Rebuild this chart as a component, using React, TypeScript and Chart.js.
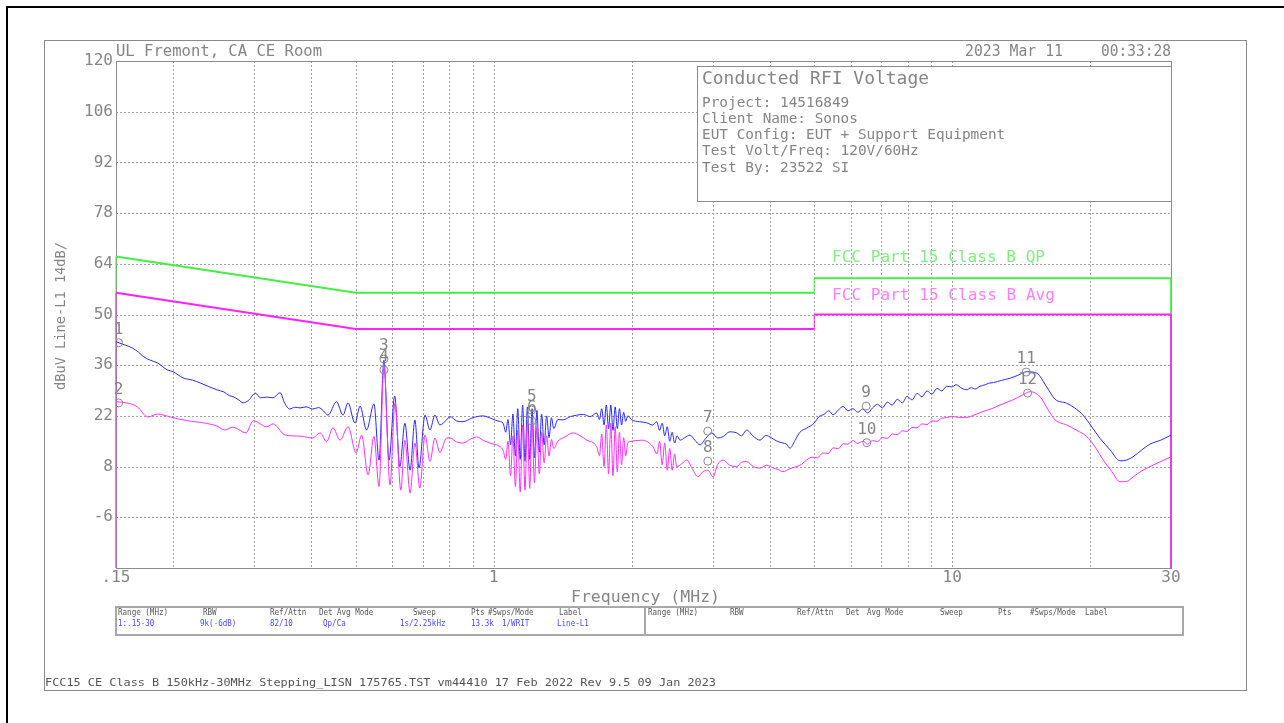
import React, { useEffect, useRef } from "react";
import { Chart, registerables } from "chart.js";

Chart.register(...registerables);

// ---------- DATA ----------
// Peak trace (blue), frequency in MHz / level in dBuV
const peakFreq = [
  0.150, 0.155, 0.160, 0.163, 0.168, 0.172, 0.178, 0.185, 0.194, 0.200,
  0.205, 0.210, 0.220, 0.229, 0.240, 0.249, 0.258, 0.265, 0.270, 0.278,
  0.284, 0.292, 0.302, 0.310, 0.320, 0.330, 0.342, 0.350, 0.359, 0.368,
  0.378, 0.390, 0.403, 0.415, 0.425, 0.435, 0.454, 0.469, 0.481, 0.498,
  0.511, 0.528, 0.548, 0.562, 0.576, 0.591, 0.608, 0.624, 0.640, 0.657,
  0.673, 0.687, 0.708, 0.726, 0.744, 0.763, 0.789, 0.803, 0.830, 0.857,
  0.900, 0.947, 0.996, 1.020, 1.048, 1.062, 1.074, 1.088, 1.101, 1.115,
  1.128, 1.142, 1.156, 1.170, 1.184, 1.198, 1.212, 1.227, 1.242, 1.257,
  1.272, 1.288, 1.304, 1.320, 1.336, 1.352, 1.380, 1.416, 1.470, 1.517,
  1.570, 1.622, 1.677, 1.700, 1.720, 1.740, 1.760, 1.780, 1.800, 1.820,
  1.840, 1.860, 1.880, 1.900, 1.920, 1.940, 1.960, 2.000, 2.080, 2.155,
  2.220, 2.267, 2.300, 2.330, 2.360, 2.390, 2.420, 2.450, 2.480, 2.510,
  2.549, 2.610, 2.679, 2.750, 2.817, 2.900, 2.990, 3.080, 3.164, 3.270,
  3.389, 3.470, 3.563, 3.680, 3.808, 3.920, 4.038, 4.150, 4.274, 4.350,
  4.426, 4.540, 4.654, 4.810, 5.000, 5.120, 5.250, 5.380, 5.500, 5.640,
  5.780, 5.920, 6.070, 6.220, 6.380, 6.540, 6.700, 6.870, 7.040, 7.220,
  7.400, 7.590, 7.780, 7.970, 8.170, 8.380, 8.590, 8.810, 9.030, 9.260,
  9.490, 9.730, 9.970, 10.20, 10.50, 10.75, 11.00, 11.20, 11.50, 11.80,
  12.00, 12.30, 12.80, 13.37, 13.90, 14.53, 15.28, 16.07, 16.76, 17.76,
  18.50, 19.29, 20.10, 21.00, 22.10, 23.22, 24.00, 24.79, 25.90, 26.99,
  28.50, 30.0,
];
const peakDb = [
  42.5, 41.8, 41.2, 40.7, 39.6, 38.4, 37.4, 36.6, 34.7, 34.2,
  33.3, 32.5, 31.9, 31.1, 30.0, 29.2, 28.6, 27.6, 27.3, 26.4,
  25.6, 26.3, 28.3, 27.0, 27.2, 27.0, 28.4, 25.5, 23.9, 24.4,
  24.2, 24.5, 23.9, 24.3, 23.4, 22.2, 25.9, 22.2, 25.6, 20.0,
  24.7, 18.1, 25.3, 9.8, 37.4, 9.8, 27.5, 8.0, 20.0, 7.0,
  20.9, 7.6, 22.2, 18.1, 22.2, 19.5, 20.9, 21.8, 20.6, 20.4,
  21.5, 22.0, 21.1, 20.6, 20.0, 17.5, 21.0, 14.0, 22.5, 11.0,
  24.0, 10.0, 25.0, 9.5, 24.5, 10.0, 24.0, 10.5, 23.5, 12.0,
  22.5, 14.0, 22.0, 16.0, 21.5, 18.5, 21.0, 20.9, 21.8, 22.2,
  22.4, 21.8, 22.8, 21.0, 24.0, 19.5, 25.0, 18.5, 25.0, 18.0,
  24.5, 18.5, 24.0, 19.5, 23.0, 20.5, 22.0, 20.9, 20.4, 20.1,
  19.5, 20.4, 18.0, 20.0, 16.5, 19.0, 15.0, 17.5, 14.5, 16.5,
  15.3, 16.0, 16.7, 15.2, 14.0, 15.8, 17.3, 15.9, 16.3, 17.6,
  17.3, 16.5, 18.1, 16.4, 15.3, 16.6, 15.9, 15.0, 14.5, 14.2,
  13.1, 15.2, 17.5, 18.6, 20.0, 21.8, 22.4, 23.4, 22.3, 23.6,
  24.6, 23.4, 24.0, 23.0, 23.9, 22.8, 24.2, 25.2, 24.2, 25.8,
  25.0, 26.6, 25.6, 27.4, 26.4, 28.2, 27.3, 28.9, 28.0, 29.6,
  28.9, 30.2, 30.0, 30.6, 29.6, 29.2, 29.8, 29.4, 30.2, 30.6,
  31.0, 31.2, 31.8, 32.4, 33.2, 34.2, 33.8, 30.0, 26.6, 25.5,
  24.2, 22.2, 19.2, 15.8, 12.6, 9.6, 9.8, 10.7, 12.6, 14.2,
  15.3, 16.7,
];

// Average trace (magenta)
const avgFreq = [
  0.150, 0.158, 0.167, 0.176, 0.185, 0.197, 0.214, 0.232, 0.249, 0.259,
  0.270, 0.288, 0.299, 0.320, 0.330, 0.351, 0.378, 0.403, 0.418, 0.432,
  0.446, 0.462, 0.481, 0.501, 0.515, 0.532, 0.548, 0.562, 0.576, 0.594,
  0.609, 0.627, 0.640, 0.657, 0.673, 0.690, 0.708, 0.726, 0.744, 0.763,
  0.789, 0.803, 0.830, 0.857, 0.890, 0.918, 0.950, 0.981, 1.032, 1.048,
  1.062, 1.074, 1.088, 1.101, 1.115, 1.128, 1.142, 1.156, 1.170, 1.184,
  1.198, 1.212, 1.227, 1.242, 1.257, 1.272, 1.288, 1.304, 1.320, 1.336,
  1.352, 1.380, 1.430, 1.489, 1.540, 1.595, 1.677, 1.700, 1.720, 1.740,
  1.760, 1.780, 1.800, 1.820, 1.840, 1.860, 1.880, 1.900, 1.920, 1.940,
  1.960, 1.982, 2.103, 2.225, 2.270, 2.300, 2.330, 2.360, 2.390, 2.420,
  2.450, 2.480, 2.507, 2.570, 2.636, 2.710, 2.789, 2.860, 2.932, 3.007,
  3.080, 3.164, 3.270, 3.389, 3.470, 3.563, 3.680, 3.808, 3.940, 4.066,
  4.170, 4.274, 4.420, 4.578, 4.690, 4.810, 4.950, 5.080, 5.220, 5.360,
  5.500, 5.640, 5.780, 5.920, 6.070, 6.220, 6.380, 6.540, 6.700, 6.870,
  7.040, 7.220, 7.400, 7.590, 7.780, 7.970, 8.170, 8.380, 8.590, 8.810,
  9.030, 9.260, 9.490, 9.730, 9.970, 10.30, 10.75, 11.20, 11.67, 12.20,
  12.71, 13.25, 13.82, 14.30, 14.78, 15.54, 16.10, 16.76, 17.76, 18.70,
  19.65, 20.50, 21.35, 22.30, 23.22, 24.00, 24.83, 25.90, 26.99, 28.50,
  30.0,
];
const avgDb = [
  25.9, 25.6, 24.5, 21.7, 22.5, 21.7, 20.7, 20.1, 19.2, 18.1,
  18.9, 17.3, 20.7, 19.0, 19.8, 16.7, 16.4, 15.9, 17.3, 14.9,
  18.7, 15.3, 19.0, 11.8, 16.7, 5.7, 16.3, 2.5, 35.5, 2.9,
  25.6, 1.5, 15.3, 0.7, 14.5, 2.1, 16.7, 9.4, 15.9, 11.9,
  15.9, 15.9, 14.8, 14.5, 15.6, 16.2, 15.2, 14.5, 13.5, 12.5,
  10.0, 15.0, 5.5, 16.5, 2.5, 18.0, 1.0, 19.5, 1.5, 20.5,
  2.0, 20.0, 3.5, 19.0, 6.0, 17.5, 9.0, 16.5, 11.0, 15.5,
  13.0, 15.0, 16.2, 17.3, 16.6, 15.3, 13.5, 11.0, 17.0, 8.0,
  19.5, 6.0, 20.0, 5.5, 19.0, 6.5, 17.5, 8.5, 16.0, 11.0,
  14.5, 14.9, 15.3, 13.5, 11.5, 15.0, 8.5, 14.5, 7.0, 13.0,
  7.0, 11.5, 8.0, 8.8, 9.8, 7.4, 5.2, 6.6, 7.0, 5.2,
  8.6, 9.8, 8.4, 8.0, 9.2, 9.4, 8.0, 7.6, 8.4, 7.6,
  7.2, 6.6, 7.4, 8.0, 8.6, 9.8, 10.6, 10.4, 11.8, 11.6,
  13.2, 12.9, 14.3, 14.2, 15.2, 14.4, 15.0, 14.2, 15.2, 14.9,
  16.0, 15.8, 17.0, 16.8, 17.9, 17.7, 18.8, 18.7, 19.8, 19.6,
  20.6, 20.5, 21.4, 21.5, 21.9, 21.6, 21.6, 22.3, 23.2, 24.0,
  25.0, 25.9, 26.9, 27.9, 28.7, 27.3, 24.2, 20.9, 19.5, 18.0,
  16.3, 13.4, 9.8, 6.6, 3.8, 3.9, 5.2, 6.8, 8.0, 9.4,
  10.7,
];

// Limit lines
const qpLimitFreq = [0.15, 0.15, 0.5, 5, 5, 30, 30];
const qpLimitDb = [-20, 66, 56, 56, 60, 60, -20];
const avgLimitFreq = [0.15, 0.15, 0.5, 5, 5, 30, 30];
const avgLimitDb = [-20, 56, 46, 46, 50, 50, -20];

// Markers
const markerLabels = ["1", "2", "3", "4", "5", "6", "7", "8", "9", "10", "11", "12"];
const markerFreq = [0.152, 0.152, 0.576, 0.576, 1.21, 1.21, 2.93, 2.93, 6.49, 6.51, 14.5, 14.6];
const markerDb = [42.2, 25.6, 37.7, 34.7, 23.6, 20.6, 17.8, 9.5, 24.7, 14.6, 34.1, 28.3];

// Axes
const yTickValues = [-6, 8, 22, 36, 50, 64, 78, 92, 106, 120];
const yGridValues = [-6, 8, 22, 36, 50, 64, 78, 92, 106];
const xTickValues = [0.15, 1, 10, 30];
const xTickText = [".15", "1", "10", "30"];
const xGridValues = [0.2, 0.3, 0.4, 0.5, 0.6, 0.7, 0.8, 0.9, 1, 2, 3, 4, 5, 6, 7, 8, 9, 10, 20];

// Texts
const chartTitle = "UL Fremont, CA CE Room";
const dateText = "2023 Mar 11";
const timeText = "00:33:28";
const yTitle = "dBuV Line-L1 14dB/";
const xTitle = "Frequency (MHz)";
const infoHeading = "Conducted RFI Voltage";
const infoLines = [
  "Project: 14516849",
  "Client Name: Sonos",
  "EUT Config: EUT + Support Equipment",
  "Test Volt/Freq: 120V/60Hz",
  "Test By: 23522 SI",
];
const qpLimitLabel = "FCC Part 15 Class B QP";
const avgLimitLabel = "FCC Part 15 Class B Avg";
const tableHeaders = ["Range (MHz)", "RBW", "Ref/Attn", "Det", "Avg Mode", "Sweep", "Pts", "#Swps/Mode", "Label"];
const tableValues = ["1:.15-30", "9k(-6dB)", "82/10", "Qp/Ca", "", "1s/2.25kHz", "13.3k", "1/WRIT", "Line-L1"];
const footerText = "FCC15 CE Class B 150kHz-30MHz Stepping_LISN 175765.TST vm44410 17 Feb 2022 Rev 9.5 09 Jan 2023";

// ---------- DRAW HELPERS ----------
const FONT = '"DejaVu Sans Mono", monospace';

function drawText(
  ctx: CanvasRenderingContext2D,
  s: string,
  x: number,
  y: number,
  size: number,
  color: string,
  align: "left" | "center" | "right" = "left",
  sx = 1
) {
  ctx.save();
  ctx.font = `${size}px ${FONT}`;
  ctx.fillStyle = color;
  ctx.textBaseline = "middle";
  ctx.textAlign = "left";
  const w = ctx.measureText(s).width * sx;
  let x0 = x;
  if (align === "center") x0 = x - w / 2;
  else if (align === "right") x0 = x - w;
  ctx.translate(x0, y);
  ctx.scale(sx, 1);
  ctx.fillText(s, 0, 0);
  ctx.restore();
}

function fitScale(ctx: CanvasRenderingContext2D, s: string, size: number, width: number) {
  ctx.save();
  ctx.font = `${size}px ${FONT}`;
  const m = ctx.measureText(s).width;
  ctx.restore();
  return width / m;
}

const decorPlugin = {
  id: "decor",
  beforeDraw(chart: any) {
    const ctx: CanvasRenderingContext2D = chart.ctx;
    ctx.save();
    ctx.fillStyle = "#ffffff";
    ctx.fillRect(0, 0, chart.width, chart.height);
    ctx.restore();
  },
  beforeDatasetsDraw(chart: any) {
    const ctx: CanvasRenderingContext2D = chart.ctx;
    const a = chart.chartArea;
    const xs = chart.scales.x;
    const ys = chart.scales.y;
    ctx.save();
    ctx.strokeStyle = "#a0a0a0";
    ctx.lineWidth = 1;
    ctx.setLineDash([2, 2]);
    for (const v of xGridValues) {
      const px = Math.round(xs.getPixelForValue(v)) + 0.5;
      ctx.beginPath();
      ctx.moveTo(px, a.top);
      ctx.lineTo(px, a.bottom);
      ctx.stroke();
    }
    for (const v of yGridValues) {
      const py = Math.round(ys.getPixelForValue(v)) + 0.5;
      ctx.beginPath();
      ctx.moveTo(a.left, py);
      ctx.lineTo(a.right, py);
      ctx.stroke();
    }
    ctx.setLineDash([]);
    ctx.strokeStyle = "#8c8c8c";
    ctx.strokeRect(Math.round(a.left) + 0.5, Math.round(a.top) + 0.5, Math.round(a.right - a.left), Math.round(a.bottom - a.top));
    ctx.restore();
  },
  afterDraw(chart: any) {
    const ctx: CanvasRenderingContext2D = chart.ctx;
    const a = chart.chartArea;
    const xs = chart.scales.x;
    const ys = chart.scales.y;
    const gray = "#858585";

    // outer frames
    ctx.save();
    ctx.fillStyle = "#000";
    ctx.fillRect(6, 6, chart.width - 6, 2);
    ctx.fillRect(6, 6, 2, chart.height - 6);
    ctx.strokeStyle = "#8a8a8a";
    ctx.lineWidth = 1;
    ctx.strokeRect(44.5, 40.5, 1202, 650);
    ctx.restore();

    // header
    drawText(ctx, chartTitle, a.left, 52, 15, gray, "left", fitScale(ctx, chartTitle, 15, 206));
    drawText(ctx, dateText, 965, 52, 15, gray, "left", fitScale(ctx, dateText, 15, 98));
    drawText(ctx, timeText, a.right, 52, 15, gray, "right", fitScale(ctx, timeText, 15, 70));

    // y ticks
    for (const v of yTickValues) {
      drawText(ctx, String(v), a.left - 3, ys.getPixelForValue(v), 16, gray, "right");
    }
    // x ticks
    xTickValues.forEach((v, i) => {
      drawText(ctx, xTickText[i], xs.getPixelForValue(v), 578, 16, gray, "center");
    });
    drawText(ctx, xTitle, (a.left + a.right) / 2 + 2, 598, 16.5, gray, "center");

    // y title
    ctx.save();
    ctx.translate(61, 316);
    ctx.rotate(-Math.PI / 2);
    drawText(ctx, yTitle, 0, 0, 14, gray, "center", fitScale(ctx, yTitle, 14, 148));
    ctx.restore();

    // info box
    ctx.save();
    ctx.fillStyle = "#fff";
    ctx.fillRect(697, 66, Math.round(a.right) - 697, 135);
    ctx.strokeStyle = "#8c8c8c";
    ctx.lineWidth = 1;
    ctx.strokeRect(697.5, 66.5, Math.round(a.right) - 697, 135);
    ctx.restore();
    drawText(ctx, infoHeading, 702, 79, 18, gray, "left", fitScale(ctx, infoHeading, 18, 227));
    infoLines.forEach((s, i) => {
      drawText(ctx, s, 702, 103 + i * 16.2, 14.4, gray, "left");
    });

    // limit labels
    drawText(ctx, qpLimitLabel, 832, 258, 16, "#80ee80", "left", fitScale(ctx, qpLimitLabel, 16, 213));
    drawText(ctx, avgLimitLabel, 832, 296, 16, "#ff80ff", "left", fitScale(ctx, avgLimitLabel, 16, 223));

    // marker labels
    const meta = chart.getDatasetMeta(0);
    meta.data.forEach((pt: any, i: number) => {
      drawText(ctx, markerLabels[i], pt.x, pt.y - 13, 16, gray, "center");
    });

    // table
    ctx.save();
    ctx.strokeStyle = "#a8a8a8";
    ctx.lineWidth = 2;
    ctx.strokeRect(116, 607, 1067, 28);
    ctx.beginPath();
    ctx.moveTo(645, 607);
    ctx.lineTo(645, 635);
    ctx.stroke();
    ctx.restore();
    const leftCols = [118, 203, 270, 319, 337, 413, 471, 488, 559];
    const leftValCols = [118, 200, 270, 323, 0, 400, 471, 502, 557];
    const rightCols = [648, 730, 797, 846, 867, 940, 998, 1030, 1085];
    tableHeaders.forEach((h, i) => {
      drawText(ctx, h, leftCols[i], 613, 9, "#555", "left", 0.84);
      drawText(ctx, h, rightCols[i], 613, 9, "#555", "left", 0.84);
      if (tableValues[i]) drawText(ctx, tableValues[i], leftValCols[i], 624, 9, "#4a4aff", "left", 0.84);
    });

    // footer
    drawText(ctx, footerText, 45, 683, 11, "#555", "left", fitScale(ctx, footerText, 11, 671));
  },
};

const pts = (fs: number[], vs: number[]) => fs.map((f, i) => ({ x: f, y: vs[i] }));
const limitSegment = {
  borderWidth: (c: any) => (c.p0.parsed.x === c.p1.parsed.x ? 1 : 2),
};

export default function App() {
  const ref = useRef<HTMLCanvasElement | null>(null);
  useEffect(() => {
    document.body.style.margin = "0";
    const canvas = ref.current!;
    const chart = new Chart(canvas, {
      type: "line",
      data: {
        datasets: [
          {
            label: "Markers",
            data: pts(markerFreq, markerDb),
            showLine: false,
            pointRadius: 4,
            pointStyle: "circle",
            pointBorderColor: "#8a8a8a",
            pointBackgroundColor: "rgba(0,0,0,0)",
            pointBorderWidth: 1,
            order: 0,
          } as any,
          {
            label: "Average",
            data: pts(avgFreq, avgDb),
            borderColor: "#ff30ff",
            borderWidth: 1,
            pointRadius: 0,
            cubicInterpolationMode: "monotone",
            order: 1,
          },
          {
            label: "Peak",
            data: pts(peakFreq, peakDb),
            borderColor: "#2a2aff",
            borderWidth: 1,
            pointRadius: 0,
            cubicInterpolationMode: "monotone",
            order: 2,
          },
          {
            label: "FCC Part 15 Class B Avg",
            data: pts(avgLimitFreq, avgLimitDb),
            borderColor: "#ff22ff",
            borderWidth: 2,
            pointRadius: 0,
            tension: 0,
            clip: 4,
            segment: limitSegment,
            order: 3,
          } as any,
          {
            label: "FCC Part 15 Class B QP",
            data: pts(qpLimitFreq, qpLimitDb),
            borderColor: "#44ee44",
            borderWidth: 2,
            pointRadius: 0,
            tension: 0,
            clip: 4,
            segment: limitSegment,
            order: 4,
          } as any,
        ],
      },
      options: {
        animation: false,
        responsive: false,
        devicePixelRatio: 1,
        layout: { padding: { left: 116, top: 61, right: 113, bottom: 155 } },
        plugins: { legend: { display: false }, tooltip: { enabled: false } },
        scales: {
          x: { type: "logarithmic", min: 0.15, max: 30, display: false },
          y: { type: "linear", min: -20, max: 120, display: false },
        },
      },
      plugins: [decorPlugin],
    });
    return () => chart.destroy();
  }, []);
  return (
    <div style={{ width: 1284, height: 723 }}>
      <canvas ref={ref} width={1284} height={723} style={{ display: "block" }} />
    </div>
  );
}
